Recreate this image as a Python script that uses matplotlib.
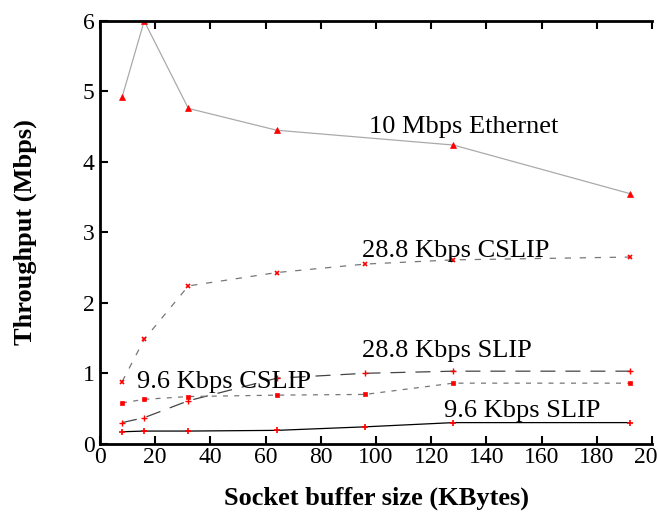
import matplotlib
matplotlib.use('Agg')
from matplotlib import pyplot as plt

# buffer sizes (KBytes)
buf_eth = [8, 16, 32, 64, 128, 192]
eth = [4.92, 6.0, 4.76, 4.45, 4.24, 3.55]

buf = [8, 16, 32, 64, 96, 128, 192]
cslip_288 = [0.88, 1.48, 2.24, 2.43, 2.55, 2.61, 2.65]
slip_288 = [0.30, 0.37, 0.61, 0.93, 1.00, 1.03, 1.03]
cslip_96 = [0.58, 0.63, 0.67, 0.69, 0.70, 0.86, 0.86]
slip_96 = [0.17, 0.18, 0.18, 0.19, 0.24, 0.30, 0.30]

x_ticks = [0, 20, 40, 60, 80, 100, 120, 140, 160, 180, 200]
y_ticks = [0, 1, 2, 3, 4, 5, 6]

plt.rcParams['font.family'] = ['Liberation Serif', 'DejaVu Serif']

fig = plt.figure(figsize=(6.58, 5.13), dpi=100)
ax = fig.add_axes([0.152, 0.135, 0.839, 0.824])

ax.plot(buf_eth, eth, color='#aaaaaa', lw=0.9, marker='^', ms=4,
        mfc='red', mec='red', mew=0.5)
ax.plot(buf, cslip_288, color='#777777', lw=0.9, ls=(0, (5, 7)),
        marker='x', ms=3.5, mfc='red', mec='red', mew=1.2)
ax.plot(buf, slip_288, color='#444444', lw=0.9, ls=(0, (12, 8)),
        marker='+', ms=4, mfc='red', mec='red', mew=1.0)
ax.plot(buf, cslip_96, color='#777777', lw=0.9, ls=(0, (4, 5)),
        marker='s', ms=3, mfc='red', mec='red', mew=0.5)
ax.plot(buf, slip_96, color='black', lw=0.9,
        marker='+', ms=4, mfc='red', mec='red', mew=1.2)

fs = 19
ax.text(97.4, 4.41, '10 Mbps Ethernet', fontsize=fs, va='baseline')
ax.text(95, 2.65, '28.8 Kbps CSLIP', fontsize=fs, va='baseline')
ax.text(95, 1.23, '28.8 Kbps SLIP', fontsize=fs, va='baseline')
ax.text(13.3, 0.79, '9.6 Kbps CSLIP', fontsize=fs, va='baseline')
ax.text(124.5, 0.38, '9.6 Kbps SLIP', fontsize=fs, va='baseline')

ax.set_xlim(0, 200)
ax.set_ylim(0, 6)
ax.set_xticks(x_ticks)
ax.set_yticks(y_ticks)
ax.tick_params(direction='in', top=True, right=False, length=6, width=1.5,
               labelsize=17)
ax.tick_params(axis='x', pad=2)
ax.tick_params(axis='y', pad=4)
for s in ax.spines.values():
    s.set_linewidth(2)
ax.spines['right'].set_visible(False)

ax.set_xlabel('Socket buffer size (KBytes)', fontsize=fs, fontweight='bold',
              labelpad=14)
ax.set_ylabel('Throughput (Mbps)', fontsize=fs, fontweight='bold', labelpad=33)

fig.savefig('out.png', dpi=100)
